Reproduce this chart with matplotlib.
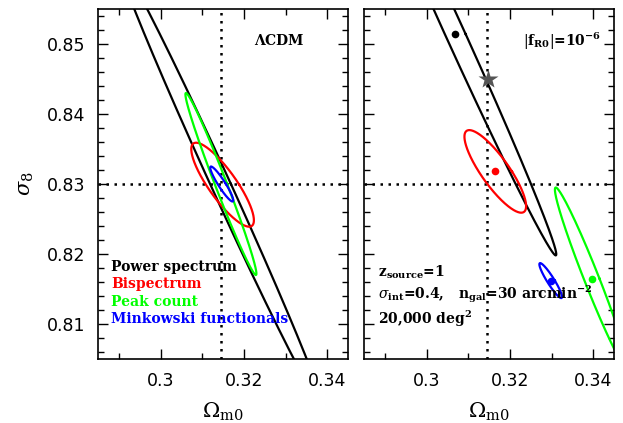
import numpy as np
import matplotlib
matplotlib.use("Agg")
import matplotlib.pyplot as plt
from matplotlib.ticker import MultipleLocator, FuncFormatter

plt.rcParams['mathtext.fontset'] = 'dejavuserif'

# ---------------- data ----------------
probe_names = ['Power spectrum', 'Bispectrum', 'Peak count', 'Minkowski functionals']
probe_colors = ['#000000', '#ff0000', '#00ff00', '#0000ff']

# contour shapes: half height in sigma8, slope d(Om)/d(s8) of the axis, half width in Om
lcdm_half_height = [0.0318, 0.0060, 0.0130, 0.0025]
lcdm_slope = [-0.766, -1.06, -0.645, -1.03]
lcdm_half_width = [0.0025, 0.0040, 0.0015, 0.0010]
lcdm_center_om = [0.3144, 0.3149, 0.3145, 0.3147]
lcdm_center_s8 = [0.8300, 0.8299, 0.8300, 0.8300]

fr_half_height = [0.0316, 0.0059, 0.0130, 0.0025]
fr_slope = [-0.763, -1.055, -0.66, -1.01]
fr_half_width = [0.0025, 0.0040, 0.0019, 0.0010]
fr_center_om = [0.3069, 0.3165, 0.3396, 0.3298]
fr_center_s8 = [0.8514, 0.8318, 0.8165, 0.8162]

fiducial_om = 0.3145
fiducial_s8 = 0.830
star_om = 0.3147
star_s8 = 0.845

x_limits = (0.285, 0.345)
y_limits = (0.805, 0.855)

# ---------------- figure ----------------
fig = plt.figure(figsize=(6.23, 4.23), dpi=100)
ax1 = fig.add_axes([0.1573, 0.1513, 0.4013, 0.8274])
ax2 = fig.add_axes([0.5843, 0.1513, 0.4013, 0.8274])

t = np.linspace(0, 2 * np.pi, 600)


def contour(ax, cx, cy, h, s, w, color):
    y = cy + h * np.sin(t)
    x = cx + s * h * np.sin(t) + w * np.cos(t)
    ax.plot(x, y, color=color, lw=1.6, solid_joinstyle='round')


for ax in (ax1, ax2):
    ax.set_xlim(*x_limits)
    ax.set_ylim(*y_limits)
    ax.axvline(fiducial_om, color='black', lw=1.8, ls=(0, (1, 2.2)), zorder=1)
    ax.axhline(fiducial_s8, color='black', lw=1.8, ls=(0, (1, 2.2)), zorder=1)
    ax.xaxis.set_major_locator(MultipleLocator(0.02))
    ax.xaxis.set_minor_locator(MultipleLocator(0.01))
    ax.yaxis.set_major_locator(MultipleLocator(0.01))
    ax.yaxis.set_minor_locator(MultipleLocator(0.002))
    ax.xaxis.set_major_formatter(FuncFormatter(lambda v, p: f'{round(v, 3):g}'))
    ax.yaxis.set_major_formatter(FuncFormatter(lambda v, p: f'{v:.2f}'))
    ax.tick_params(which='both', direction='in', top=True, right=True, width=1.0)
    ax.tick_params(which='major', length=7, labelsize=12.5, pad=9)
    ax.tick_params(which='minor', length=4.5)
    for sp in ax.spines.values():
        sp.set_linewidth(1.2)
    ax.set_xlabel(r'$\Omega_{\rm m0}$', fontsize=15, labelpad=8)

ax2.tick_params(labelleft=False)
ax1.set_ylabel(r'$\sigma_8$', fontsize=15, labelpad=8)

for i in range(4):
    contour(ax1, lcdm_center_om[i], lcdm_center_s8[i], lcdm_half_height[i],
            lcdm_slope[i], lcdm_half_width[i], probe_colors[i])
    contour(ax2, fr_center_om[i], fr_center_s8[i], fr_half_height[i],
            fr_slope[i], fr_half_width[i], probe_colors[i])
    ax2.plot(fr_center_om[i], fr_center_s8[i], 'o', color=probe_colors[i], ms=5.5, mec='none')

ax2.plot(star_om, star_s8, marker='*', color='#555555', ms=15, mec='none')

txt = dict(family='DejaVu Serif', fontsize=10, fontweight='bold')

# legend texts
leg_y = [0.263, 0.213, 0.164, 0.113]
for name, col, yy in zip(probe_names, probe_colors, leg_y):
    ax1.text(0.052, yy, name, color=col, transform=ax1.transAxes,
             va='center', ha='left', **txt)

ax1.text(0.727, 0.909, r'$\mathbf{\Lambda}$CDM', transform=ax1.transAxes,
         ha='center', va='center', **txt)
ax2.text(0.791, 0.909, r'$|\mathbf{f}_{\mathbf{R0}}|$=10$^{\mathbf{-6}}$', transform=ax2.transAxes,
         ha='center', va='center', **txt)

ax2.text(0.055, 0.235, r'z$_{\mathbf{source}}$=1', transform=ax2.transAxes,
         va='baseline', **txt)
ax2.text(0.055, 0.174, r'$\sigma_{\mathbf{int}}$=0.4,   n$_{\mathbf{gal}}$=30 arcmin$^{\mathbf{-2}}$',
         transform=ax2.transAxes, va='baseline', **txt)
ax2.text(0.055, 0.10, r'20,000 deg$^{\mathbf{2}}$', transform=ax2.transAxes,
         va='baseline', **txt)

fig.savefig('out.png', dpi=100)
